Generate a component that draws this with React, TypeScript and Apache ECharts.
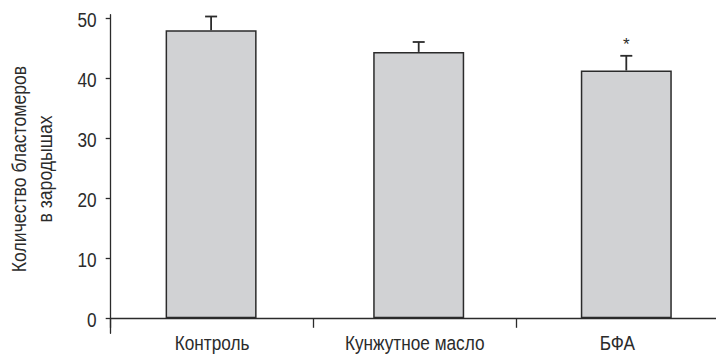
import React, { useEffect, useRef } from "react";
import * as echarts from "echarts";

// Number of blastomeres per embryo, mean ± SEM
const categories = ["Контроль", "Кунжутное масло", "БФА"];
const means = [48.0, 44.4, 41.3];
const sem = [2.3, 1.65, 2.45];
const significance = ["", "", "*"];
const yTicks = [0, 10, 20, 30, 40, 50];
const yTitle = "Количество бластомеров\nв зародышах";

const FONT = "'Liberation Sans', Arial, sans-serif";
const INK = "#2b2b2b";
// horizontal squeeze that gives the narrow-face look of the lettering
const NARROW = 0.84;
const Y_MIN = -2.5;
const Y_MAX = 50.6;

export default function App() {
  const ref = useRef<HTMLDivElement>(null);

  useEffect(() => {
    if (!ref.current) return;
    const chart = echarts.init(ref.current, null, { renderer: "svg" });

    chart.setOption({
      animation: false,
      backgroundColor: "#ffffff",
      textStyle: { fontFamily: FONT },
      grid: [
        // axes frame: y axis runs a little below the zero line
        { left: 110.7, right: -2.7, top: 14.7, bottom: 20.7, outerBoundsMode: "none" },
        // bars frame: same vertical scale, starting at zero
        { left: 107.3, right: -14.1, top: 14.7, bottom: 35.7, outerBoundsMode: "none" },
      ],
      xAxis: [
        {
          type: "category",
          gridIndex: 0,
          data: categories,
          boundaryGap: true,
          axisLine: { onZero: true, lineStyle: { color: INK, width: 1.3 } },
          axisTick: { show: true, length: 9.5, lineStyle: { color: INK, width: 1.3 } },
          axisLabel: { show: false },
        },
        { type: "category", gridIndex: 1, data: categories, show: false },
      ],
      yAxis: [
        {
          type: "value",
          gridIndex: 0,
          min: Y_MIN,
          max: Y_MAX,
          splitLine: { show: false },
          axisLine: { show: true, lineStyle: { color: INK, width: 1.3 } },
          axisTick: {
            show: true,
            length: 5,
            customValues: yTicks,
            lineStyle: { color: INK, width: 1.3 },
          },
          axisLabel: { show: false },
        },
        { type: "value", gridIndex: 1, min: 0, max: Y_MAX, show: false },
      ],
      graphic: [
        {
          type: "text",
          x: 31,
          y: 169,
          rotation: Math.PI / 2,
          scaleX: NARROW,
          style: {
            text: yTitle,
            fontFamily: FONT,
            fontSize: 21,
            fill: INK,
            align: "center",
            verticalAlign: "middle",
            lineHeight: 26,
          },
        },
      ],
      series: [
        {
          type: "bar",
          xAxisIndex: 1,
          yAxisIndex: 1,
          data: means,
          barWidth: 91,
          itemStyle: { color: "#d1d2d4", borderColor: INK, borderWidth: 1.5 },
        },
        {
          // error bars with significance marks
          type: "custom",
          xAxisIndex: 1,
          yAxisIndex: 1,
          clip: false,
          silent: true,
          z: 3,
          data: means.map((m, i) => [i, m, sem[i]]),
          renderItem: (params: any, api: any) => {
            const idx = api.value(0);
            const mean = api.value(1);
            const err = api.value(2);
            const base = api.coord([idx, mean]);
            const top = api.coord([idx, mean + err]);
            const capHalf = 6;
            const children: any[] = [
              {
                type: "line",
                shape: { x1: base[0], y1: base[1], x2: top[0], y2: top[1] },
                style: { stroke: INK, lineWidth: 1.8 },
              },
              {
                type: "line",
                shape: { x1: top[0] - capHalf, y1: top[1], x2: top[0] + capHalf, y2: top[1] },
                style: { stroke: INK, lineWidth: 1.8 },
              },
            ];
            const mark = significance[params.dataIndex];
            if (mark) {
              children.push({
                type: "text",
                x: top[0],
                y: top[1] - 2.7,
                style: {
                  text: mark,
                  fontFamily: FONT,
                  fontSize: 17,
                  fill: INK,
                  align: "center",
                  verticalAlign: "bottom",
                },
              });
            }
            return { type: "group", children };
          },
        },
        {
          // category labels under the x axis
          type: "custom",
          xAxisIndex: 0,
          yAxisIndex: 0,
          clip: false,
          silent: true,
          data: categories.map((_, i) => [i, 0]),
          renderItem: (params: any, api: any) => {
            const i = api.value(0);
            const p = api.coord([i, 0]);
            return {
              type: "text",
              x: p[0],
              y: p[1] + 25,
              scaleX: NARROW,
              style: {
                text: categories[i],
                fontFamily: FONT,
                fontSize: 20.5,
                fill: INK,
                align: "center",
                verticalAlign: "middle",
              },
            };
          },
        },
        {
          // value labels beside the y axis
          type: "custom",
          xAxisIndex: 0,
          yAxisIndex: 0,
          clip: false,
          silent: true,
          data: yTicks.map((v) => [0, v]),
          renderItem: (params: any, api: any) => {
            const v = api.value(1);
            const p = api.coord([0, v]);
            return {
              type: "text",
              x: params.coordSys.x - 14,
              y: p[1] + 1.5,
              scaleX: NARROW,
              style: {
                text: String(v),
                fontFamily: FONT,
                fontSize: 20.5,
                fill: INK,
                align: "right",
                verticalAlign: "middle",
              },
            };
          },
        },
      ],
    });

    return () => chart.dispose();
  }, []);

  return (
    <div
      ref={ref}
      style={{ position: "fixed", left: 0, top: 0, width: 716, height: 354 }}
    />
  );
}
